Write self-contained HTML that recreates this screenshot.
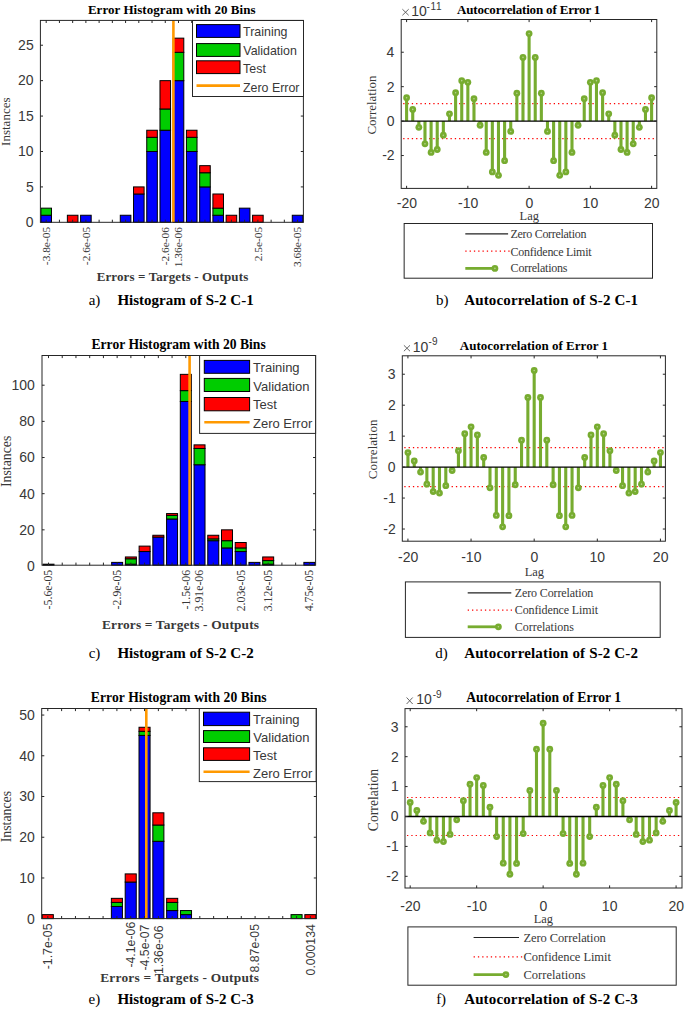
<!DOCTYPE html>
<html><head><meta charset="utf-8"><title>Figure</title>
<style>html,body{margin:0;padding:0;background:#fff;} body{width:685px;height:1009px;overflow:hidden;} svg{display:block;}</style>
</head><body>
<svg width="685" height="1009" viewBox="0 0 685 1009">
<rect x="0" y="0" width="685" height="1009" fill="#fff"/>
<rect x="40.91" y="215.25" width="10.58" height="7.05" fill="#0000ff" stroke="#000" stroke-width="1"/>
<rect x="40.91" y="208.16" width="10.58" height="7.08" fill="#00cc00" stroke="#000" stroke-width="1"/>
<rect x="67.37" y="215.25" width="10.58" height="7.05" fill="#ff0000" stroke="#000" stroke-width="1"/>
<rect x="80.60" y="215.25" width="10.58" height="7.05" fill="#0000ff" stroke="#000" stroke-width="1"/>
<rect x="120.29" y="215.25" width="10.58" height="7.05" fill="#0000ff" stroke="#000" stroke-width="1"/>
<rect x="133.52" y="193.99" width="10.58" height="28.31" fill="#0000ff" stroke="#000" stroke-width="1"/>
<rect x="133.52" y="186.91" width="10.58" height="7.08" fill="#ff0000" stroke="#000" stroke-width="1"/>
<rect x="146.75" y="151.49" width="10.58" height="70.81" fill="#0000ff" stroke="#000" stroke-width="1"/>
<rect x="146.75" y="137.32" width="10.58" height="14.17" fill="#00cc00" stroke="#000" stroke-width="1"/>
<rect x="146.75" y="130.24" width="10.58" height="7.08" fill="#ff0000" stroke="#000" stroke-width="1"/>
<rect x="159.98" y="130.24" width="10.58" height="92.06" fill="#0000ff" stroke="#000" stroke-width="1"/>
<rect x="159.98" y="108.99" width="10.58" height="21.25" fill="#00cc00" stroke="#000" stroke-width="1"/>
<rect x="159.98" y="80.65" width="10.58" height="28.34" fill="#ff0000" stroke="#000" stroke-width="1"/>
<rect x="173.21" y="80.65" width="10.58" height="141.65" fill="#0000ff" stroke="#000" stroke-width="1"/>
<rect x="173.21" y="52.31" width="10.58" height="28.34" fill="#00cc00" stroke="#000" stroke-width="1"/>
<rect x="173.21" y="38.15" width="10.58" height="14.17" fill="#ff0000" stroke="#000" stroke-width="1"/>
<rect x="186.44" y="151.49" width="10.58" height="70.81" fill="#0000ff" stroke="#000" stroke-width="1"/>
<rect x="186.44" y="137.32" width="10.58" height="14.17" fill="#00cc00" stroke="#000" stroke-width="1"/>
<rect x="186.44" y="130.24" width="10.58" height="7.08" fill="#ff0000" stroke="#000" stroke-width="1"/>
<rect x="199.67" y="186.91" width="10.58" height="35.39" fill="#0000ff" stroke="#000" stroke-width="1"/>
<rect x="199.67" y="172.74" width="10.58" height="14.17" fill="#00cc00" stroke="#000" stroke-width="1"/>
<rect x="199.67" y="165.66" width="10.58" height="7.08" fill="#ff0000" stroke="#000" stroke-width="1"/>
<rect x="212.90" y="215.25" width="10.58" height="7.05" fill="#0000ff" stroke="#000" stroke-width="1"/>
<rect x="212.90" y="208.16" width="10.58" height="7.08" fill="#00cc00" stroke="#000" stroke-width="1"/>
<rect x="212.90" y="193.99" width="10.58" height="14.17" fill="#ff0000" stroke="#000" stroke-width="1"/>
<rect x="226.13" y="215.25" width="10.58" height="7.05" fill="#ff0000" stroke="#000" stroke-width="1"/>
<rect x="239.36" y="208.16" width="10.58" height="14.14" fill="#0000ff" stroke="#000" stroke-width="1"/>
<rect x="252.59" y="215.25" width="10.58" height="7.05" fill="#ff0000" stroke="#000" stroke-width="1"/>
<rect x="292.28" y="215.25" width="10.58" height="7.05" fill="#0000ff" stroke="#000" stroke-width="1"/>
<line x1="173.40" y1="20.40" x2="173.40" y2="222.30" stroke="#ff9900" stroke-width="2.6"/>
<rect x="40.40" y="20.40" width="263.00" height="201.90" fill="none" stroke="#262626" stroke-width="1"/>
<line x1="46.20" y1="222.30" x2="46.20" y2="219.70" stroke="#262626" stroke-width="1"/>
<line x1="46.20" y1="20.40" x2="46.20" y2="23.00" stroke="#262626" stroke-width="1"/>
<line x1="59.43" y1="222.30" x2="59.43" y2="219.70" stroke="#262626" stroke-width="1"/>
<line x1="59.43" y1="20.40" x2="59.43" y2="23.00" stroke="#262626" stroke-width="1"/>
<line x1="72.66" y1="222.30" x2="72.66" y2="219.70" stroke="#262626" stroke-width="1"/>
<line x1="72.66" y1="20.40" x2="72.66" y2="23.00" stroke="#262626" stroke-width="1"/>
<line x1="85.89" y1="222.30" x2="85.89" y2="219.70" stroke="#262626" stroke-width="1"/>
<line x1="85.89" y1="20.40" x2="85.89" y2="23.00" stroke="#262626" stroke-width="1"/>
<line x1="99.12" y1="222.30" x2="99.12" y2="219.70" stroke="#262626" stroke-width="1"/>
<line x1="99.12" y1="20.40" x2="99.12" y2="23.00" stroke="#262626" stroke-width="1"/>
<line x1="112.35" y1="222.30" x2="112.35" y2="219.70" stroke="#262626" stroke-width="1"/>
<line x1="112.35" y1="20.40" x2="112.35" y2="23.00" stroke="#262626" stroke-width="1"/>
<line x1="125.58" y1="222.30" x2="125.58" y2="219.70" stroke="#262626" stroke-width="1"/>
<line x1="125.58" y1="20.40" x2="125.58" y2="23.00" stroke="#262626" stroke-width="1"/>
<line x1="138.81" y1="222.30" x2="138.81" y2="219.70" stroke="#262626" stroke-width="1"/>
<line x1="138.81" y1="20.40" x2="138.81" y2="23.00" stroke="#262626" stroke-width="1"/>
<line x1="152.04" y1="222.30" x2="152.04" y2="219.70" stroke="#262626" stroke-width="1"/>
<line x1="152.04" y1="20.40" x2="152.04" y2="23.00" stroke="#262626" stroke-width="1"/>
<line x1="165.27" y1="222.30" x2="165.27" y2="219.70" stroke="#262626" stroke-width="1"/>
<line x1="165.27" y1="20.40" x2="165.27" y2="23.00" stroke="#262626" stroke-width="1"/>
<line x1="178.50" y1="222.30" x2="178.50" y2="219.70" stroke="#262626" stroke-width="1"/>
<line x1="178.50" y1="20.40" x2="178.50" y2="23.00" stroke="#262626" stroke-width="1"/>
<line x1="191.73" y1="222.30" x2="191.73" y2="219.70" stroke="#262626" stroke-width="1"/>
<line x1="191.73" y1="20.40" x2="191.73" y2="23.00" stroke="#262626" stroke-width="1"/>
<line x1="204.96" y1="222.30" x2="204.96" y2="219.70" stroke="#262626" stroke-width="1"/>
<line x1="204.96" y1="20.40" x2="204.96" y2="23.00" stroke="#262626" stroke-width="1"/>
<line x1="218.19" y1="222.30" x2="218.19" y2="219.70" stroke="#262626" stroke-width="1"/>
<line x1="218.19" y1="20.40" x2="218.19" y2="23.00" stroke="#262626" stroke-width="1"/>
<line x1="231.42" y1="222.30" x2="231.42" y2="219.70" stroke="#262626" stroke-width="1"/>
<line x1="231.42" y1="20.40" x2="231.42" y2="23.00" stroke="#262626" stroke-width="1"/>
<line x1="244.65" y1="222.30" x2="244.65" y2="219.70" stroke="#262626" stroke-width="1"/>
<line x1="244.65" y1="20.40" x2="244.65" y2="23.00" stroke="#262626" stroke-width="1"/>
<line x1="257.88" y1="222.30" x2="257.88" y2="219.70" stroke="#262626" stroke-width="1"/>
<line x1="257.88" y1="20.40" x2="257.88" y2="23.00" stroke="#262626" stroke-width="1"/>
<line x1="271.11" y1="222.30" x2="271.11" y2="219.70" stroke="#262626" stroke-width="1"/>
<line x1="271.11" y1="20.40" x2="271.11" y2="23.00" stroke="#262626" stroke-width="1"/>
<line x1="284.34" y1="222.30" x2="284.34" y2="219.70" stroke="#262626" stroke-width="1"/>
<line x1="284.34" y1="20.40" x2="284.34" y2="23.00" stroke="#262626" stroke-width="1"/>
<line x1="297.57" y1="222.30" x2="297.57" y2="219.70" stroke="#262626" stroke-width="1"/>
<line x1="297.57" y1="20.40" x2="297.57" y2="23.00" stroke="#262626" stroke-width="1"/>
<text x="25.86" y="227.15" font-family='"Liberation Sans", sans-serif' font-size="14" fill="#383838">0</text>
<line x1="40.40" y1="186.91" x2="43.00" y2="186.91" stroke="#262626" stroke-width="1"/>
<line x1="303.40" y1="186.91" x2="300.80" y2="186.91" stroke="#262626" stroke-width="1"/>
<text x="25.90" y="191.66" font-family='"Liberation Sans", sans-serif' font-size="14" fill="#383838">5</text>
<line x1="40.40" y1="151.49" x2="43.00" y2="151.49" stroke="#262626" stroke-width="1"/>
<line x1="303.40" y1="151.49" x2="300.80" y2="151.49" stroke="#262626" stroke-width="1"/>
<text x="18.07" y="156.31" font-family='"Liberation Sans", sans-serif' font-size="14" fill="#383838">10</text>
<line x1="40.40" y1="116.07" x2="43.00" y2="116.07" stroke="#262626" stroke-width="1"/>
<line x1="303.40" y1="116.07" x2="300.80" y2="116.07" stroke="#262626" stroke-width="1"/>
<text x="18.12" y="120.82" font-family='"Liberation Sans", sans-serif' font-size="14" fill="#383838">15</text>
<line x1="40.40" y1="80.65" x2="43.00" y2="80.65" stroke="#262626" stroke-width="1"/>
<line x1="303.40" y1="80.65" x2="300.80" y2="80.65" stroke="#262626" stroke-width="1"/>
<text x="18.07" y="85.47" font-family='"Liberation Sans", sans-serif' font-size="14" fill="#383838">20</text>
<line x1="40.40" y1="45.23" x2="43.00" y2="45.23" stroke="#262626" stroke-width="1"/>
<line x1="303.40" y1="45.23" x2="300.80" y2="45.23" stroke="#262626" stroke-width="1"/>
<text x="18.12" y="50.05" font-family='"Liberation Sans", sans-serif' font-size="14" fill="#383838">25</text>
<rect x="192.50" y="20.50" width="111.00" height="76.00" fill="#fff" stroke="#262626" stroke-width="1"/>
<rect x="196.50" y="24.60" width="43.50" height="12.80" fill="#0000ff" stroke="#000" stroke-width="1"/>
<rect x="196.50" y="43.60" width="43.50" height="12.80" fill="#00cc00" stroke="#000" stroke-width="1"/>
<rect x="196.50" y="60.80" width="43.50" height="12.80" fill="#ff0000" stroke="#000" stroke-width="1"/>
<line x1="196.50" y1="85.60" x2="240.00" y2="85.60" stroke="#ff9900" stroke-width="2.6"/>
<text x="243.12" y="36.30" font-family='"Liberation Sans", sans-serif' font-size="12.4" fill="#383838">Training</text>
<text x="243.35" y="54.70" font-family='"Liberation Sans", sans-serif' font-size="12.4" fill="#383838">Validation</text>
<text x="243.12" y="73.10" font-family='"Liberation Sans", sans-serif' font-size="12.4" fill="#383838">Test</text>
<text x="243.01" y="91.90" font-family='"Liberation Sans", sans-serif' font-size="12.4" fill="#383838">Zero Error</text>
<text x="87.88" y="14.00" font-family='"Liberation Serif", serif' font-size="13" fill="#000" font-weight="bold" textLength="167.64" lengthAdjust="spacing">Error Histogram with 20 Bins</text>
<text x="0" y="0" transform="translate(9.90 145.88) rotate(-90)" font-family='"Liberation Serif", serif' font-size="13" fill="#383838">Instances</text>
<text x="0" y="0" transform="translate(49.91 265.16) rotate(-90)" font-family='"Liberation Serif", serif' font-size="11.4" fill="#383838">-3.8e-05</text>
<text x="0" y="0" transform="translate(89.60 265.16) rotate(-90)" font-family='"Liberation Serif", serif' font-size="11.4" fill="#383838">-2.6e-05</text>
<text x="0" y="0" transform="translate(168.98 265.26) rotate(-90)" font-family='"Liberation Serif", serif' font-size="11.4" fill="#383838">-2.6e-06</text>
<text x="0" y="0" transform="translate(182.21 267.17) rotate(-90)" font-family='"Liberation Serif", serif' font-size="11.4" fill="#383838">1.36e-06</text>
<text x="0" y="0" transform="translate(261.59 261.36) rotate(-90)" font-family='"Liberation Serif", serif' font-size="11.4" fill="#383838">2.5e-05</text>
<text x="0" y="0" transform="translate(301.28 267.06) rotate(-90)" font-family='"Liberation Serif", serif' font-size="11.4" fill="#383838">3.68e-05</text>
<text x="96.68" y="281.00" font-family='"Liberation Serif", serif' font-size="13" fill="#383838" font-weight="bold" textLength="151.54" lengthAdjust="spacing">Errors = Targets - Outputs</text>
<text x="88.67" y="304.80" font-family='"Liberation Serif", serif' font-size="15" fill="#000">a)</text>
<text x="117.44" y="304.80" font-family='"Liberation Serif", serif' font-size="15" fill="#000" font-weight="bold">Histogram of S-2 C-1</text>
<rect x="43.01" y="564.19" width="10.98" height="1.01" fill="#0000ff" stroke="#000" stroke-width="1"/>
<rect x="111.66" y="562.38" width="10.98" height="2.82" fill="#0000ff" stroke="#000" stroke-width="1"/>
<rect x="125.39" y="564.19" width="10.98" height="1.01" fill="#0000ff" stroke="#000" stroke-width="1"/>
<rect x="125.39" y="558.77" width="10.98" height="5.42" fill="#00cc00" stroke="#000" stroke-width="1"/>
<rect x="125.39" y="556.96" width="10.98" height="1.81" fill="#ff0000" stroke="#000" stroke-width="1"/>
<rect x="139.12" y="551.54" width="10.98" height="13.66" fill="#0000ff" stroke="#000" stroke-width="1"/>
<rect x="139.12" y="546.11" width="10.98" height="5.42" fill="#ff0000" stroke="#000" stroke-width="1"/>
<rect x="152.85" y="537.07" width="10.98" height="28.13" fill="#0000ff" stroke="#000" stroke-width="1"/>
<rect x="152.85" y="535.26" width="10.98" height="1.81" fill="#ff0000" stroke="#000" stroke-width="1"/>
<rect x="166.58" y="518.99" width="10.98" height="46.21" fill="#0000ff" stroke="#000" stroke-width="1"/>
<rect x="166.58" y="515.38" width="10.98" height="3.62" fill="#00cc00" stroke="#000" stroke-width="1"/>
<rect x="166.58" y="513.57" width="10.98" height="1.81" fill="#ff0000" stroke="#000" stroke-width="1"/>
<rect x="180.31" y="401.47" width="10.98" height="163.73" fill="#0000ff" stroke="#000" stroke-width="1"/>
<rect x="180.31" y="390.62" width="10.98" height="10.85" fill="#00cc00" stroke="#000" stroke-width="1"/>
<rect x="180.31" y="374.35" width="10.98" height="16.27" fill="#ff0000" stroke="#000" stroke-width="1"/>
<rect x="194.04" y="464.75" width="10.98" height="100.45" fill="#0000ff" stroke="#000" stroke-width="1"/>
<rect x="194.04" y="448.48" width="10.98" height="16.27" fill="#00cc00" stroke="#000" stroke-width="1"/>
<rect x="194.04" y="444.86" width="10.98" height="3.62" fill="#ff0000" stroke="#000" stroke-width="1"/>
<rect x="207.77" y="540.69" width="10.98" height="24.51" fill="#0000ff" stroke="#000" stroke-width="1"/>
<rect x="207.77" y="538.88" width="10.98" height="1.81" fill="#00cc00" stroke="#000" stroke-width="1"/>
<rect x="207.77" y="535.26" width="10.98" height="3.62" fill="#ff0000" stroke="#000" stroke-width="1"/>
<rect x="221.50" y="547.92" width="10.98" height="17.28" fill="#0000ff" stroke="#000" stroke-width="1"/>
<rect x="221.50" y="540.69" width="10.98" height="7.23" fill="#00cc00" stroke="#000" stroke-width="1"/>
<rect x="221.50" y="529.84" width="10.98" height="10.85" fill="#ff0000" stroke="#000" stroke-width="1"/>
<rect x="235.23" y="551.54" width="10.98" height="13.66" fill="#0000ff" stroke="#000" stroke-width="1"/>
<rect x="235.23" y="547.92" width="10.98" height="3.62" fill="#00cc00" stroke="#000" stroke-width="1"/>
<rect x="235.23" y="542.50" width="10.98" height="5.42" fill="#ff0000" stroke="#000" stroke-width="1"/>
<rect x="248.96" y="562.38" width="10.98" height="2.82" fill="#0000ff" stroke="#000" stroke-width="1"/>
<rect x="262.69" y="564.19" width="10.98" height="1.01" fill="#0000ff" stroke="#000" stroke-width="1"/>
<rect x="262.69" y="560.58" width="10.98" height="3.62" fill="#00cc00" stroke="#000" stroke-width="1"/>
<rect x="262.69" y="556.96" width="10.98" height="3.62" fill="#ff0000" stroke="#000" stroke-width="1"/>
<rect x="303.88" y="562.38" width="10.98" height="2.82" fill="#0000ff" stroke="#000" stroke-width="1"/>
<line x1="189.60" y1="355.50" x2="189.60" y2="565.20" stroke="#ff9900" stroke-width="2.6"/>
<rect x="42.00" y="355.50" width="273.60" height="209.70" fill="none" stroke="#262626" stroke-width="1"/>
<line x1="48.50" y1="565.20" x2="48.50" y2="562.60" stroke="#262626" stroke-width="1"/>
<line x1="48.50" y1="355.50" x2="48.50" y2="358.10" stroke="#262626" stroke-width="1"/>
<line x1="62.23" y1="565.20" x2="62.23" y2="562.60" stroke="#262626" stroke-width="1"/>
<line x1="62.23" y1="355.50" x2="62.23" y2="358.10" stroke="#262626" stroke-width="1"/>
<line x1="75.96" y1="565.20" x2="75.96" y2="562.60" stroke="#262626" stroke-width="1"/>
<line x1="75.96" y1="355.50" x2="75.96" y2="358.10" stroke="#262626" stroke-width="1"/>
<line x1="89.69" y1="565.20" x2="89.69" y2="562.60" stroke="#262626" stroke-width="1"/>
<line x1="89.69" y1="355.50" x2="89.69" y2="358.10" stroke="#262626" stroke-width="1"/>
<line x1="103.42" y1="565.20" x2="103.42" y2="562.60" stroke="#262626" stroke-width="1"/>
<line x1="103.42" y1="355.50" x2="103.42" y2="358.10" stroke="#262626" stroke-width="1"/>
<line x1="117.15" y1="565.20" x2="117.15" y2="562.60" stroke="#262626" stroke-width="1"/>
<line x1="117.15" y1="355.50" x2="117.15" y2="358.10" stroke="#262626" stroke-width="1"/>
<line x1="130.88" y1="565.20" x2="130.88" y2="562.60" stroke="#262626" stroke-width="1"/>
<line x1="130.88" y1="355.50" x2="130.88" y2="358.10" stroke="#262626" stroke-width="1"/>
<line x1="144.61" y1="565.20" x2="144.61" y2="562.60" stroke="#262626" stroke-width="1"/>
<line x1="144.61" y1="355.50" x2="144.61" y2="358.10" stroke="#262626" stroke-width="1"/>
<line x1="158.34" y1="565.20" x2="158.34" y2="562.60" stroke="#262626" stroke-width="1"/>
<line x1="158.34" y1="355.50" x2="158.34" y2="358.10" stroke="#262626" stroke-width="1"/>
<line x1="172.07" y1="565.20" x2="172.07" y2="562.60" stroke="#262626" stroke-width="1"/>
<line x1="172.07" y1="355.50" x2="172.07" y2="358.10" stroke="#262626" stroke-width="1"/>
<line x1="185.80" y1="565.20" x2="185.80" y2="562.60" stroke="#262626" stroke-width="1"/>
<line x1="185.80" y1="355.50" x2="185.80" y2="358.10" stroke="#262626" stroke-width="1"/>
<line x1="199.53" y1="565.20" x2="199.53" y2="562.60" stroke="#262626" stroke-width="1"/>
<line x1="199.53" y1="355.50" x2="199.53" y2="358.10" stroke="#262626" stroke-width="1"/>
<line x1="213.26" y1="565.20" x2="213.26" y2="562.60" stroke="#262626" stroke-width="1"/>
<line x1="213.26" y1="355.50" x2="213.26" y2="358.10" stroke="#262626" stroke-width="1"/>
<line x1="226.99" y1="565.20" x2="226.99" y2="562.60" stroke="#262626" stroke-width="1"/>
<line x1="226.99" y1="355.50" x2="226.99" y2="358.10" stroke="#262626" stroke-width="1"/>
<line x1="240.72" y1="565.20" x2="240.72" y2="562.60" stroke="#262626" stroke-width="1"/>
<line x1="240.72" y1="355.50" x2="240.72" y2="358.10" stroke="#262626" stroke-width="1"/>
<line x1="254.45" y1="565.20" x2="254.45" y2="562.60" stroke="#262626" stroke-width="1"/>
<line x1="254.45" y1="355.50" x2="254.45" y2="358.10" stroke="#262626" stroke-width="1"/>
<line x1="268.18" y1="565.20" x2="268.18" y2="562.60" stroke="#262626" stroke-width="1"/>
<line x1="268.18" y1="355.50" x2="268.18" y2="358.10" stroke="#262626" stroke-width="1"/>
<line x1="281.91" y1="565.20" x2="281.91" y2="562.60" stroke="#262626" stroke-width="1"/>
<line x1="281.91" y1="355.50" x2="281.91" y2="358.10" stroke="#262626" stroke-width="1"/>
<line x1="295.64" y1="565.20" x2="295.64" y2="562.60" stroke="#262626" stroke-width="1"/>
<line x1="295.64" y1="355.50" x2="295.64" y2="358.10" stroke="#262626" stroke-width="1"/>
<line x1="309.37" y1="565.20" x2="309.37" y2="562.60" stroke="#262626" stroke-width="1"/>
<line x1="309.37" y1="355.50" x2="309.37" y2="358.10" stroke="#262626" stroke-width="1"/>
<text x="26.96" y="570.82" font-family='"Liberation Sans", sans-serif' font-size="14" fill="#383838">0</text>
<line x1="42.00" y1="529.84" x2="44.60" y2="529.84" stroke="#262626" stroke-width="1"/>
<line x1="315.60" y1="529.84" x2="313.00" y2="529.84" stroke="#262626" stroke-width="1"/>
<text x="19.17" y="534.66" font-family='"Liberation Sans", sans-serif' font-size="14" fill="#383838">20</text>
<line x1="42.00" y1="493.68" x2="44.60" y2="493.68" stroke="#262626" stroke-width="1"/>
<line x1="315.60" y1="493.68" x2="313.00" y2="493.68" stroke="#262626" stroke-width="1"/>
<text x="19.17" y="498.50" font-family='"Liberation Sans", sans-serif' font-size="14" fill="#383838">40</text>
<line x1="42.00" y1="457.52" x2="44.60" y2="457.52" stroke="#262626" stroke-width="1"/>
<line x1="315.60" y1="457.52" x2="313.00" y2="457.52" stroke="#262626" stroke-width="1"/>
<text x="19.17" y="462.34" font-family='"Liberation Sans", sans-serif' font-size="14" fill="#383838">60</text>
<line x1="42.00" y1="421.36" x2="44.60" y2="421.36" stroke="#262626" stroke-width="1"/>
<line x1="315.60" y1="421.36" x2="313.00" y2="421.36" stroke="#262626" stroke-width="1"/>
<text x="19.17" y="426.18" font-family='"Liberation Sans", sans-serif' font-size="14" fill="#383838">80</text>
<line x1="42.00" y1="385.20" x2="44.60" y2="385.20" stroke="#262626" stroke-width="1"/>
<line x1="315.60" y1="385.20" x2="313.00" y2="385.20" stroke="#262626" stroke-width="1"/>
<text x="11.39" y="390.02" font-family='"Liberation Sans", sans-serif' font-size="14" fill="#383838">100</text>
<rect x="199.60" y="355.50" width="116.00" height="77.90" fill="#fff" stroke="#262626" stroke-width="1"/>
<rect x="204.30" y="360.40" width="45.30" height="12.90" fill="#0000ff" stroke="#000" stroke-width="1"/>
<rect x="204.30" y="378.40" width="45.30" height="13.10" fill="#00cc00" stroke="#000" stroke-width="1"/>
<rect x="204.30" y="397.50" width="45.30" height="13.30" fill="#ff0000" stroke="#000" stroke-width="1"/>
<line x1="204.30" y1="422.30" x2="249.60" y2="422.30" stroke="#ff9900" stroke-width="2.6"/>
<text x="253.11" y="371.60" font-family='"Liberation Sans", sans-serif' font-size="13" fill="#383838">Training</text>
<text x="253.34" y="390.60" font-family='"Liberation Sans", sans-serif' font-size="13" fill="#383838">Validation</text>
<text x="253.11" y="409.00" font-family='"Liberation Sans", sans-serif' font-size="13" fill="#383838">Test</text>
<text x="252.99" y="427.80" font-family='"Liberation Sans", sans-serif' font-size="13" fill="#383838">Zero Error</text>
<text x="91.47" y="349.00" font-family='"Liberation Serif", serif' font-size="13.6" fill="#000" font-weight="bold" textLength="174.26" lengthAdjust="spacing">Error Histogram with 20 Bins</text>
<text x="0" y="0" transform="translate(10.70 487.02) rotate(-90)" font-family='"Liberation Serif", serif' font-size="13.8" fill="#383838">Instances</text>
<text x="0" y="0" transform="translate(52.34 609.39) rotate(-90)" font-family='"Liberation Serif", serif' font-size="11.8" fill="#383838">-5.6e-05</text>
<text x="0" y="0" transform="translate(120.99 609.39) rotate(-90)" font-family='"Liberation Serif", serif' font-size="11.8" fill="#383838">-2.9e-05</text>
<text x="0" y="0" transform="translate(189.64 609.49) rotate(-90)" font-family='"Liberation Serif", serif' font-size="11.8" fill="#383838">-1.5e-06</text>
<text x="0" y="0" transform="translate(203.37 611.47) rotate(-90)" font-family='"Liberation Serif", serif' font-size="11.8" fill="#383838">3.91e-06</text>
<text x="0" y="0" transform="translate(244.56 611.36) rotate(-90)" font-family='"Liberation Serif", serif' font-size="11.8" fill="#383838">2.03e-05</text>
<text x="0" y="0" transform="translate(272.02 611.36) rotate(-90)" font-family='"Liberation Serif", serif' font-size="11.8" fill="#383838">3.12e-05</text>
<text x="0" y="0" transform="translate(313.21 611.36) rotate(-90)" font-family='"Liberation Serif", serif' font-size="11.8" fill="#383838">4.75e-05</text>
<text x="101.97" y="628.50" font-family='"Liberation Serif", serif' font-size="13.4" fill="#383838" font-weight="bold" textLength="157.06" lengthAdjust="spacing">Errors = Targets - Outputs</text>
<text x="88.63" y="658.00" font-family='"Liberation Serif", serif' font-size="15" fill="#000">c)</text>
<text x="117.44" y="658.00" font-family='"Liberation Serif", serif' font-size="15" fill="#000" font-weight="bold">Histogram of S-2 C-2</text>
<rect x="42.27" y="914.63" width="11.06" height="3.97" fill="#ff0000" stroke="#000" stroke-width="1"/>
<rect x="111.37" y="906.48" width="11.06" height="12.12" fill="#0000ff" stroke="#000" stroke-width="1"/>
<rect x="111.37" y="902.41" width="11.06" height="4.07" fill="#00cc00" stroke="#000" stroke-width="1"/>
<rect x="111.37" y="898.34" width="11.06" height="4.07" fill="#ff0000" stroke="#000" stroke-width="1"/>
<rect x="125.19" y="882.04" width="11.06" height="36.56" fill="#0000ff" stroke="#000" stroke-width="1"/>
<rect x="125.19" y="873.90" width="11.06" height="8.15" fill="#ff0000" stroke="#000" stroke-width="1"/>
<rect x="139.01" y="735.41" width="11.06" height="183.19" fill="#0000ff" stroke="#000" stroke-width="1"/>
<rect x="139.01" y="731.34" width="11.06" height="4.07" fill="#00cc00" stroke="#000" stroke-width="1"/>
<rect x="139.01" y="727.27" width="11.06" height="4.07" fill="#ff0000" stroke="#000" stroke-width="1"/>
<rect x="152.83" y="841.31" width="11.06" height="77.29" fill="#0000ff" stroke="#000" stroke-width="1"/>
<rect x="152.83" y="825.02" width="11.06" height="16.29" fill="#00cc00" stroke="#000" stroke-width="1"/>
<rect x="152.83" y="812.80" width="11.06" height="12.22" fill="#ff0000" stroke="#000" stroke-width="1"/>
<rect x="166.65" y="910.55" width="11.06" height="8.05" fill="#0000ff" stroke="#000" stroke-width="1"/>
<rect x="166.65" y="902.41" width="11.06" height="8.15" fill="#00cc00" stroke="#000" stroke-width="1"/>
<rect x="166.65" y="898.34" width="11.06" height="4.07" fill="#ff0000" stroke="#000" stroke-width="1"/>
<rect x="180.47" y="914.63" width="11.06" height="3.97" fill="#0000ff" stroke="#000" stroke-width="1"/>
<rect x="180.47" y="910.55" width="11.06" height="4.07" fill="#00cc00" stroke="#000" stroke-width="1"/>
<rect x="291.03" y="914.63" width="11.06" height="3.97" fill="#00cc00" stroke="#000" stroke-width="1"/>
<rect x="304.85" y="914.63" width="11.06" height="3.97" fill="#ff0000" stroke="#000" stroke-width="1"/>
<line x1="146.30" y1="708.50" x2="146.30" y2="918.60" stroke="#ff9900" stroke-width="2.6"/>
<rect x="41.70" y="708.50" width="274.70" height="210.10" fill="none" stroke="#262626" stroke-width="1"/>
<line x1="47.80" y1="918.60" x2="47.80" y2="916.00" stroke="#262626" stroke-width="1"/>
<line x1="47.80" y1="708.50" x2="47.80" y2="711.10" stroke="#262626" stroke-width="1"/>
<line x1="61.62" y1="918.60" x2="61.62" y2="916.00" stroke="#262626" stroke-width="1"/>
<line x1="61.62" y1="708.50" x2="61.62" y2="711.10" stroke="#262626" stroke-width="1"/>
<line x1="75.44" y1="918.60" x2="75.44" y2="916.00" stroke="#262626" stroke-width="1"/>
<line x1="75.44" y1="708.50" x2="75.44" y2="711.10" stroke="#262626" stroke-width="1"/>
<line x1="89.26" y1="918.60" x2="89.26" y2="916.00" stroke="#262626" stroke-width="1"/>
<line x1="89.26" y1="708.50" x2="89.26" y2="711.10" stroke="#262626" stroke-width="1"/>
<line x1="103.08" y1="918.60" x2="103.08" y2="916.00" stroke="#262626" stroke-width="1"/>
<line x1="103.08" y1="708.50" x2="103.08" y2="711.10" stroke="#262626" stroke-width="1"/>
<line x1="116.90" y1="918.60" x2="116.90" y2="916.00" stroke="#262626" stroke-width="1"/>
<line x1="116.90" y1="708.50" x2="116.90" y2="711.10" stroke="#262626" stroke-width="1"/>
<line x1="130.72" y1="918.60" x2="130.72" y2="916.00" stroke="#262626" stroke-width="1"/>
<line x1="130.72" y1="708.50" x2="130.72" y2="711.10" stroke="#262626" stroke-width="1"/>
<line x1="144.54" y1="918.60" x2="144.54" y2="916.00" stroke="#262626" stroke-width="1"/>
<line x1="144.54" y1="708.50" x2="144.54" y2="711.10" stroke="#262626" stroke-width="1"/>
<line x1="158.36" y1="918.60" x2="158.36" y2="916.00" stroke="#262626" stroke-width="1"/>
<line x1="158.36" y1="708.50" x2="158.36" y2="711.10" stroke="#262626" stroke-width="1"/>
<line x1="172.18" y1="918.60" x2="172.18" y2="916.00" stroke="#262626" stroke-width="1"/>
<line x1="172.18" y1="708.50" x2="172.18" y2="711.10" stroke="#262626" stroke-width="1"/>
<line x1="186.00" y1="918.60" x2="186.00" y2="916.00" stroke="#262626" stroke-width="1"/>
<line x1="186.00" y1="708.50" x2="186.00" y2="711.10" stroke="#262626" stroke-width="1"/>
<line x1="199.82" y1="918.60" x2="199.82" y2="916.00" stroke="#262626" stroke-width="1"/>
<line x1="199.82" y1="708.50" x2="199.82" y2="711.10" stroke="#262626" stroke-width="1"/>
<line x1="213.64" y1="918.60" x2="213.64" y2="916.00" stroke="#262626" stroke-width="1"/>
<line x1="213.64" y1="708.50" x2="213.64" y2="711.10" stroke="#262626" stroke-width="1"/>
<line x1="227.46" y1="918.60" x2="227.46" y2="916.00" stroke="#262626" stroke-width="1"/>
<line x1="227.46" y1="708.50" x2="227.46" y2="711.10" stroke="#262626" stroke-width="1"/>
<line x1="241.28" y1="918.60" x2="241.28" y2="916.00" stroke="#262626" stroke-width="1"/>
<line x1="241.28" y1="708.50" x2="241.28" y2="711.10" stroke="#262626" stroke-width="1"/>
<line x1="255.10" y1="918.60" x2="255.10" y2="916.00" stroke="#262626" stroke-width="1"/>
<line x1="255.10" y1="708.50" x2="255.10" y2="711.10" stroke="#262626" stroke-width="1"/>
<line x1="268.92" y1="918.60" x2="268.92" y2="916.00" stroke="#262626" stroke-width="1"/>
<line x1="268.92" y1="708.50" x2="268.92" y2="711.10" stroke="#262626" stroke-width="1"/>
<line x1="282.74" y1="918.60" x2="282.74" y2="916.00" stroke="#262626" stroke-width="1"/>
<line x1="282.74" y1="708.50" x2="282.74" y2="711.10" stroke="#262626" stroke-width="1"/>
<line x1="296.56" y1="918.60" x2="296.56" y2="916.00" stroke="#262626" stroke-width="1"/>
<line x1="296.56" y1="708.50" x2="296.56" y2="711.10" stroke="#262626" stroke-width="1"/>
<line x1="310.38" y1="918.60" x2="310.38" y2="916.00" stroke="#262626" stroke-width="1"/>
<line x1="310.38" y1="708.50" x2="310.38" y2="711.10" stroke="#262626" stroke-width="1"/>
<text x="26.96" y="923.52" font-family='"Liberation Sans", sans-serif' font-size="14" fill="#383838">0</text>
<line x1="41.70" y1="877.97" x2="44.30" y2="877.97" stroke="#262626" stroke-width="1"/>
<line x1="316.40" y1="877.97" x2="313.80" y2="877.97" stroke="#262626" stroke-width="1"/>
<text x="19.17" y="882.79" font-family='"Liberation Sans", sans-serif' font-size="14" fill="#383838">10</text>
<line x1="41.70" y1="837.24" x2="44.30" y2="837.24" stroke="#262626" stroke-width="1"/>
<line x1="316.40" y1="837.24" x2="313.80" y2="837.24" stroke="#262626" stroke-width="1"/>
<text x="19.17" y="842.06" font-family='"Liberation Sans", sans-serif' font-size="14" fill="#383838">20</text>
<line x1="41.70" y1="796.51" x2="44.30" y2="796.51" stroke="#262626" stroke-width="1"/>
<line x1="316.40" y1="796.51" x2="313.80" y2="796.51" stroke="#262626" stroke-width="1"/>
<text x="19.17" y="801.33" font-family='"Liberation Sans", sans-serif' font-size="14" fill="#383838">30</text>
<line x1="41.70" y1="755.78" x2="44.30" y2="755.78" stroke="#262626" stroke-width="1"/>
<line x1="316.40" y1="755.78" x2="313.80" y2="755.78" stroke="#262626" stroke-width="1"/>
<text x="19.17" y="760.60" font-family='"Liberation Sans", sans-serif' font-size="14" fill="#383838">40</text>
<line x1="41.70" y1="715.05" x2="44.30" y2="715.05" stroke="#262626" stroke-width="1"/>
<line x1="316.40" y1="715.05" x2="313.80" y2="715.05" stroke="#262626" stroke-width="1"/>
<text x="19.17" y="719.87" font-family='"Liberation Sans", sans-serif' font-size="14" fill="#383838">50</text>
<rect x="199.30" y="708.50" width="116.80" height="73.10" fill="#fff" stroke="#262626" stroke-width="1"/>
<rect x="203.50" y="712.20" width="46.10" height="13.40" fill="#0000ff" stroke="#000" stroke-width="1"/>
<rect x="203.50" y="730.60" width="46.10" height="11.90" fill="#00cc00" stroke="#000" stroke-width="1"/>
<rect x="203.50" y="747.80" width="46.10" height="12.60" fill="#ff0000" stroke="#000" stroke-width="1"/>
<line x1="203.50" y1="771.80" x2="249.60" y2="771.80" stroke="#ff9900" stroke-width="2.6"/>
<text x="253.11" y="723.50" font-family='"Liberation Sans", sans-serif' font-size="13" fill="#383838">Training</text>
<text x="253.34" y="741.50" font-family='"Liberation Sans", sans-serif' font-size="13" fill="#383838">Validation</text>
<text x="253.11" y="759.50" font-family='"Liberation Sans", sans-serif' font-size="13" fill="#383838">Test</text>
<text x="252.99" y="777.50" font-family='"Liberation Sans", sans-serif' font-size="13" fill="#383838">Zero Error</text>
<text x="90.87" y="701.90" font-family='"Liberation Serif", serif' font-size="13.6" fill="#000" font-weight="bold" textLength="175.76" lengthAdjust="spacing">Error Histogram with 20 Bins</text>
<text x="0" y="0" transform="translate(10.70 842.32) rotate(-90)" font-family='"Liberation Serif", serif' font-size="13.8" fill="#383838">Instances</text>
<text x="0" y="0" transform="translate(52.03 969.30) rotate(-90)" font-family='"Liberation Sans", sans-serif' font-size="12.3" fill="#383838">-1.7e-05</text>
<text x="0" y="0" transform="translate(134.95 967.57) rotate(-90)" font-family='"Liberation Sans", sans-serif' font-size="12.3" fill="#383838">-4.1e-06</text>
<text x="0" y="0" transform="translate(148.77 970.49) rotate(-90)" font-family='"Liberation Sans", sans-serif' font-size="12.3" fill="#383838">-4.5e-07</text>
<text x="0" y="0" transform="translate(162.59 974.02) rotate(-90)" font-family='"Liberation Sans", sans-serif' font-size="12.3" fill="#383838">1.36e-06</text>
<text x="0" y="0" transform="translate(259.33 972.54) rotate(-90)" font-family='"Liberation Sans", sans-serif' font-size="12.3" fill="#383838">8.87e-05</text>
<text x="0" y="0" transform="translate(314.61 975.44) rotate(-90)" font-family='"Liberation Sans", sans-serif' font-size="12.3" fill="#383838">0.000134</text>
<text x="100.17" y="981.50" font-family='"Liberation Serif", serif' font-size="13.4" fill="#383838" font-weight="bold" textLength="158.86" lengthAdjust="spacing">Errors = Targets - Outputs</text>
<text x="88.61" y="1003.80" font-family='"Liberation Serif", serif' font-size="15" fill="#000">e)</text>
<text x="117.44" y="1003.80" font-family='"Liberation Serif", serif' font-size="15" fill="#000" font-weight="bold">Histogram of S-2 C-3</text>
<line x1="403.20" y1="103.54" x2="656.80" y2="103.54" stroke="#ff0000" stroke-width="1.2" stroke-dasharray="1.3 3"/>
<line x1="403.20" y1="138.66" x2="656.80" y2="138.66" stroke="#ff0000" stroke-width="1.2" stroke-dasharray="1.3 3"/>
<line x1="406.60" y1="121.10" x2="406.60" y2="97.68" stroke="#77ac30" stroke-width="3.1"/>
<line x1="412.73" y1="121.10" x2="412.73" y2="109.39" stroke="#77ac30" stroke-width="3.1"/>
<line x1="418.85" y1="121.10" x2="418.85" y2="127.30" stroke="#77ac30" stroke-width="3.1"/>
<line x1="424.98" y1="121.10" x2="424.98" y2="143.83" stroke="#77ac30" stroke-width="3.1"/>
<line x1="431.10" y1="121.10" x2="431.10" y2="152.44" stroke="#77ac30" stroke-width="3.1"/>
<line x1="437.23" y1="121.10" x2="437.23" y2="149.51" stroke="#77ac30" stroke-width="3.1"/>
<line x1="443.35" y1="121.10" x2="443.35" y2="135.22" stroke="#77ac30" stroke-width="3.1"/>
<line x1="449.48" y1="121.10" x2="449.48" y2="113.87" stroke="#77ac30" stroke-width="3.1"/>
<line x1="455.60" y1="121.10" x2="455.60" y2="92.69" stroke="#77ac30" stroke-width="3.1"/>
<line x1="461.73" y1="121.10" x2="461.73" y2="80.63" stroke="#77ac30" stroke-width="3.1"/>
<line x1="467.85" y1="121.10" x2="467.85" y2="82.35" stroke="#77ac30" stroke-width="3.1"/>
<line x1="473.98" y1="121.10" x2="473.98" y2="98.71" stroke="#77ac30" stroke-width="3.1"/>
<line x1="480.10" y1="121.10" x2="480.10" y2="125.23" stroke="#77ac30" stroke-width="3.1"/>
<line x1="486.23" y1="121.10" x2="486.23" y2="152.44" stroke="#77ac30" stroke-width="3.1"/>
<line x1="492.35" y1="121.10" x2="492.35" y2="171.90" stroke="#77ac30" stroke-width="3.1"/>
<line x1="498.48" y1="121.10" x2="498.48" y2="175.34" stroke="#77ac30" stroke-width="3.1"/>
<line x1="504.60" y1="121.10" x2="504.60" y2="160.71" stroke="#77ac30" stroke-width="3.1"/>
<line x1="510.73" y1="121.10" x2="510.73" y2="131.43" stroke="#77ac30" stroke-width="3.1"/>
<line x1="516.85" y1="121.10" x2="516.85" y2="93.20" stroke="#77ac30" stroke-width="3.1"/>
<line x1="522.98" y1="121.10" x2="522.98" y2="57.39" stroke="#77ac30" stroke-width="3.1"/>
<line x1="529.10" y1="121.10" x2="529.10" y2="33.62" stroke="#77ac30" stroke-width="3.1"/>
<line x1="535.23" y1="121.10" x2="535.23" y2="57.39" stroke="#77ac30" stroke-width="3.1"/>
<line x1="541.35" y1="121.10" x2="541.35" y2="93.20" stroke="#77ac30" stroke-width="3.1"/>
<line x1="547.48" y1="121.10" x2="547.48" y2="131.43" stroke="#77ac30" stroke-width="3.1"/>
<line x1="553.60" y1="121.10" x2="553.60" y2="160.71" stroke="#77ac30" stroke-width="3.1"/>
<line x1="559.73" y1="121.10" x2="559.73" y2="175.34" stroke="#77ac30" stroke-width="3.1"/>
<line x1="565.85" y1="121.10" x2="565.85" y2="171.90" stroke="#77ac30" stroke-width="3.1"/>
<line x1="571.98" y1="121.10" x2="571.98" y2="152.44" stroke="#77ac30" stroke-width="3.1"/>
<line x1="578.10" y1="121.10" x2="578.10" y2="125.23" stroke="#77ac30" stroke-width="3.1"/>
<line x1="584.23" y1="121.10" x2="584.23" y2="98.71" stroke="#77ac30" stroke-width="3.1"/>
<line x1="590.35" y1="121.10" x2="590.35" y2="82.35" stroke="#77ac30" stroke-width="3.1"/>
<line x1="596.48" y1="121.10" x2="596.48" y2="80.63" stroke="#77ac30" stroke-width="3.1"/>
<line x1="602.60" y1="121.10" x2="602.60" y2="92.69" stroke="#77ac30" stroke-width="3.1"/>
<line x1="608.73" y1="121.10" x2="608.73" y2="113.87" stroke="#77ac30" stroke-width="3.1"/>
<line x1="614.85" y1="121.10" x2="614.85" y2="135.22" stroke="#77ac30" stroke-width="3.1"/>
<line x1="620.98" y1="121.10" x2="620.98" y2="149.51" stroke="#77ac30" stroke-width="3.1"/>
<line x1="627.10" y1="121.10" x2="627.10" y2="152.44" stroke="#77ac30" stroke-width="3.1"/>
<line x1="633.23" y1="121.10" x2="633.23" y2="143.83" stroke="#77ac30" stroke-width="3.1"/>
<line x1="639.35" y1="121.10" x2="639.35" y2="127.30" stroke="#77ac30" stroke-width="3.1"/>
<line x1="645.48" y1="121.10" x2="645.48" y2="109.39" stroke="#77ac30" stroke-width="3.1"/>
<line x1="651.60" y1="121.10" x2="651.60" y2="97.68" stroke="#77ac30" stroke-width="3.1"/>
<circle cx="406.60" cy="97.68" r="3.4" fill="#77ac30"/>
<circle cx="406.60" cy="97.68" r="0.8" fill="#b5d48e"/>
<circle cx="412.73" cy="109.39" r="3.4" fill="#77ac30"/>
<circle cx="412.73" cy="109.39" r="0.8" fill="#b5d48e"/>
<circle cx="418.85" cy="127.30" r="3.4" fill="#77ac30"/>
<circle cx="418.85" cy="127.30" r="0.8" fill="#b5d48e"/>
<circle cx="424.98" cy="143.83" r="3.4" fill="#77ac30"/>
<circle cx="424.98" cy="143.83" r="0.8" fill="#b5d48e"/>
<circle cx="431.10" cy="152.44" r="3.4" fill="#77ac30"/>
<circle cx="431.10" cy="152.44" r="0.8" fill="#b5d48e"/>
<circle cx="437.23" cy="149.51" r="3.4" fill="#77ac30"/>
<circle cx="437.23" cy="149.51" r="0.8" fill="#b5d48e"/>
<circle cx="443.35" cy="135.22" r="3.4" fill="#77ac30"/>
<circle cx="443.35" cy="135.22" r="0.8" fill="#b5d48e"/>
<circle cx="449.48" cy="113.87" r="3.4" fill="#77ac30"/>
<circle cx="449.48" cy="113.87" r="0.8" fill="#b5d48e"/>
<circle cx="455.60" cy="92.69" r="3.4" fill="#77ac30"/>
<circle cx="455.60" cy="92.69" r="0.8" fill="#b5d48e"/>
<circle cx="461.73" cy="80.63" r="3.4" fill="#77ac30"/>
<circle cx="461.73" cy="80.63" r="0.8" fill="#b5d48e"/>
<circle cx="467.85" cy="82.35" r="3.4" fill="#77ac30"/>
<circle cx="467.85" cy="82.35" r="0.8" fill="#b5d48e"/>
<circle cx="473.98" cy="98.71" r="3.4" fill="#77ac30"/>
<circle cx="473.98" cy="98.71" r="0.8" fill="#b5d48e"/>
<circle cx="480.10" cy="125.23" r="3.4" fill="#77ac30"/>
<circle cx="480.10" cy="125.23" r="0.8" fill="#b5d48e"/>
<circle cx="486.23" cy="152.44" r="3.4" fill="#77ac30"/>
<circle cx="486.23" cy="152.44" r="0.8" fill="#b5d48e"/>
<circle cx="492.35" cy="171.90" r="3.4" fill="#77ac30"/>
<circle cx="492.35" cy="171.90" r="0.8" fill="#b5d48e"/>
<circle cx="498.48" cy="175.34" r="3.4" fill="#77ac30"/>
<circle cx="498.48" cy="175.34" r="0.8" fill="#b5d48e"/>
<circle cx="504.60" cy="160.71" r="3.4" fill="#77ac30"/>
<circle cx="504.60" cy="160.71" r="0.8" fill="#b5d48e"/>
<circle cx="510.73" cy="131.43" r="3.4" fill="#77ac30"/>
<circle cx="510.73" cy="131.43" r="0.8" fill="#b5d48e"/>
<circle cx="516.85" cy="93.20" r="3.4" fill="#77ac30"/>
<circle cx="516.85" cy="93.20" r="0.8" fill="#b5d48e"/>
<circle cx="522.98" cy="57.39" r="3.4" fill="#77ac30"/>
<circle cx="522.98" cy="57.39" r="0.8" fill="#b5d48e"/>
<circle cx="529.10" cy="33.62" r="3.4" fill="#77ac30"/>
<circle cx="529.10" cy="33.62" r="0.8" fill="#b5d48e"/>
<circle cx="535.23" cy="57.39" r="3.4" fill="#77ac30"/>
<circle cx="535.23" cy="57.39" r="0.8" fill="#b5d48e"/>
<circle cx="541.35" cy="93.20" r="3.4" fill="#77ac30"/>
<circle cx="541.35" cy="93.20" r="0.8" fill="#b5d48e"/>
<circle cx="547.48" cy="131.43" r="3.4" fill="#77ac30"/>
<circle cx="547.48" cy="131.43" r="0.8" fill="#b5d48e"/>
<circle cx="553.60" cy="160.71" r="3.4" fill="#77ac30"/>
<circle cx="553.60" cy="160.71" r="0.8" fill="#b5d48e"/>
<circle cx="559.73" cy="175.34" r="3.4" fill="#77ac30"/>
<circle cx="559.73" cy="175.34" r="0.8" fill="#b5d48e"/>
<circle cx="565.85" cy="171.90" r="3.4" fill="#77ac30"/>
<circle cx="565.85" cy="171.90" r="0.8" fill="#b5d48e"/>
<circle cx="571.98" cy="152.44" r="3.4" fill="#77ac30"/>
<circle cx="571.98" cy="152.44" r="0.8" fill="#b5d48e"/>
<circle cx="578.10" cy="125.23" r="3.4" fill="#77ac30"/>
<circle cx="578.10" cy="125.23" r="0.8" fill="#b5d48e"/>
<circle cx="584.23" cy="98.71" r="3.4" fill="#77ac30"/>
<circle cx="584.23" cy="98.71" r="0.8" fill="#b5d48e"/>
<circle cx="590.35" cy="82.35" r="3.4" fill="#77ac30"/>
<circle cx="590.35" cy="82.35" r="0.8" fill="#b5d48e"/>
<circle cx="596.48" cy="80.63" r="3.4" fill="#77ac30"/>
<circle cx="596.48" cy="80.63" r="0.8" fill="#b5d48e"/>
<circle cx="602.60" cy="92.69" r="3.4" fill="#77ac30"/>
<circle cx="602.60" cy="92.69" r="0.8" fill="#b5d48e"/>
<circle cx="608.73" cy="113.87" r="3.4" fill="#77ac30"/>
<circle cx="608.73" cy="113.87" r="0.8" fill="#b5d48e"/>
<circle cx="614.85" cy="135.22" r="3.4" fill="#77ac30"/>
<circle cx="614.85" cy="135.22" r="0.8" fill="#b5d48e"/>
<circle cx="620.98" cy="149.51" r="3.4" fill="#77ac30"/>
<circle cx="620.98" cy="149.51" r="0.8" fill="#b5d48e"/>
<circle cx="627.10" cy="152.44" r="3.4" fill="#77ac30"/>
<circle cx="627.10" cy="152.44" r="0.8" fill="#b5d48e"/>
<circle cx="633.23" cy="143.83" r="3.4" fill="#77ac30"/>
<circle cx="633.23" cy="143.83" r="0.8" fill="#b5d48e"/>
<circle cx="639.35" cy="127.30" r="3.4" fill="#77ac30"/>
<circle cx="639.35" cy="127.30" r="0.8" fill="#b5d48e"/>
<circle cx="645.48" cy="109.39" r="3.4" fill="#77ac30"/>
<circle cx="645.48" cy="109.39" r="0.8" fill="#b5d48e"/>
<circle cx="651.60" cy="97.68" r="3.4" fill="#77ac30"/>
<circle cx="651.60" cy="97.68" r="0.8" fill="#b5d48e"/>
<line x1="401.20" y1="121.10" x2="656.80" y2="121.10" stroke="#000" stroke-width="1.3"/>
<rect x="401.20" y="19.50" width="255.60" height="168.90" fill="none" stroke="#262626" stroke-width="1"/>
<line x1="406.60" y1="188.40" x2="406.60" y2="185.80" stroke="#262626" stroke-width="1"/>
<line x1="406.60" y1="19.50" x2="406.60" y2="22.10" stroke="#262626" stroke-width="1"/>
<text x="396.75" y="207.80" font-family='"Liberation Sans", sans-serif' font-size="14" fill="#383838">-20</text>
<line x1="467.85" y1="188.40" x2="467.85" y2="185.80" stroke="#262626" stroke-width="1"/>
<line x1="467.85" y1="19.50" x2="467.85" y2="22.10" stroke="#262626" stroke-width="1"/>
<text x="458.00" y="207.80" font-family='"Liberation Sans", sans-serif' font-size="14" fill="#383838">-10</text>
<line x1="529.10" y1="188.40" x2="529.10" y2="185.80" stroke="#262626" stroke-width="1"/>
<line x1="529.10" y1="19.50" x2="529.10" y2="22.10" stroke="#262626" stroke-width="1"/>
<text x="525.51" y="207.80" font-family='"Liberation Sans", sans-serif' font-size="14" fill="#383838">0</text>
<line x1="590.35" y1="188.40" x2="590.35" y2="185.80" stroke="#262626" stroke-width="1"/>
<line x1="590.35" y1="19.50" x2="590.35" y2="22.10" stroke="#262626" stroke-width="1"/>
<text x="582.60" y="207.80" font-family='"Liberation Sans", sans-serif' font-size="14" fill="#383838">10</text>
<line x1="651.60" y1="188.40" x2="651.60" y2="185.80" stroke="#262626" stroke-width="1"/>
<line x1="651.60" y1="19.50" x2="651.60" y2="22.10" stroke="#262626" stroke-width="1"/>
<text x="644.04" y="207.80" font-family='"Liberation Sans", sans-serif' font-size="14" fill="#383838">20</text>
<line x1="401.20" y1="155.54" x2="403.80" y2="155.54" stroke="#262626" stroke-width="1"/>
<line x1="656.80" y1="155.54" x2="654.20" y2="155.54" stroke="#262626" stroke-width="1"/>
<text x="382.16" y="160.43" font-family='"Liberation Sans", sans-serif' font-size="14" fill="#383838">-2</text>
<line x1="401.20" y1="121.10" x2="403.80" y2="121.10" stroke="#262626" stroke-width="1"/>
<line x1="656.80" y1="121.10" x2="654.20" y2="121.10" stroke="#262626" stroke-width="1"/>
<text x="386.66" y="125.92" font-family='"Liberation Sans", sans-serif' font-size="14" fill="#383838">0</text>
<line x1="401.20" y1="86.66" x2="403.80" y2="86.66" stroke="#262626" stroke-width="1"/>
<line x1="656.80" y1="86.66" x2="654.20" y2="86.66" stroke="#262626" stroke-width="1"/>
<text x="386.82" y="91.55" font-family='"Liberation Sans", sans-serif' font-size="14" fill="#383838">2</text>
<line x1="401.20" y1="52.22" x2="403.80" y2="52.22" stroke="#262626" stroke-width="1"/>
<line x1="656.80" y1="52.22" x2="654.20" y2="52.22" stroke="#262626" stroke-width="1"/>
<text x="386.52" y="57.04" font-family='"Liberation Sans", sans-serif' font-size="14" fill="#383838">4</text>
<line x1="402.40" y1="9.20" x2="408.70" y2="15.30" stroke="#555" stroke-width="0.9"/>
<line x1="402.40" y1="15.30" x2="408.70" y2="9.20" stroke="#555" stroke-width="0.9"/>
<text x="411.13" y="15.90" font-family='"Liberation Sans", sans-serif' font-size="14" fill="#383838">10</text>
<text x="426.56" y="9.50" font-family='"Liberation Sans", sans-serif' font-size="10" fill="#383838" textLength="15.03" lengthAdjust="spacing">-11</text>
<text x="456.97" y="13.70" font-family='"Liberation Serif", serif' font-size="13" fill="#000" font-weight="bold" textLength="143.40" lengthAdjust="spacing">Autocorrelation of Error 1</text>
<text x="0" y="0" transform="translate(376.30 134.62) rotate(-90)" font-family='"Liberation Serif", serif' font-size="13" fill="#383838">Correlation</text>
<text x="519.62" y="219.80" font-family='"Liberation Serif", serif' font-size="12.5" fill="#383838">Lag</text>
<rect x="404.15" y="223.50" width="248.35" height="54.70" fill="#fff" stroke="#262626" stroke-width="1"/>
<line x1="465.30" y1="233.90" x2="508.10" y2="233.90" stroke="#222" stroke-width="1.2"/>
<line x1="465.30" y1="251.20" x2="512.10" y2="251.20" stroke="#ff0000" stroke-width="1.2" stroke-dasharray="1.3 3"/>
<line x1="465.30" y1="268.40" x2="494.90" y2="268.40" stroke="#77ac30" stroke-width="2.8"/>
<circle cx="494.90" cy="268.40" r="3.4" fill="#77ac30"/>
<circle cx="494.90" cy="268.40" r="0.8" fill="#b5d48e"/>
<text x="510.53" y="237.80" font-family='"Liberation Serif", serif' font-size="12" fill="#383838" textLength="75.86" lengthAdjust="spacing">Zero Correlation</text>
<text x="510.61" y="255.90" font-family='"Liberation Serif", serif' font-size="12" fill="#383838" textLength="80.96" lengthAdjust="spacing">Confidence Limit</text>
<text x="510.61" y="272.20" font-family='"Liberation Serif", serif' font-size="12" fill="#383838" textLength="56.93" lengthAdjust="spacing">Correlations</text>
<text x="436.10" y="304.80" font-family='"Liberation Serif", serif' font-size="15" fill="#000">b)</text>
<text x="464.15" y="304.80" font-family='"Liberation Serif", serif' font-size="15" fill="#000" font-weight="bold" textLength="173.92" lengthAdjust="spacing">Autocorrelation of S-2 C-1</text>
<line x1="404.30" y1="447.60" x2="665.40" y2="447.60" stroke="#ff0000" stroke-width="1.2" stroke-dasharray="1.3 3"/>
<line x1="404.30" y1="486.60" x2="665.40" y2="486.60" stroke="#ff0000" stroke-width="1.2" stroke-dasharray="1.3 3"/>
<line x1="407.93" y1="467.10" x2="407.93" y2="452.55" stroke="#77ac30" stroke-width="3.1"/>
<line x1="414.24" y1="467.10" x2="414.24" y2="460.91" stroke="#77ac30" stroke-width="3.1"/>
<line x1="420.55" y1="467.10" x2="420.55" y2="472.05" stroke="#77ac30" stroke-width="3.1"/>
<line x1="426.87" y1="467.10" x2="426.87" y2="484.13" stroke="#77ac30" stroke-width="3.1"/>
<line x1="433.18" y1="467.10" x2="433.18" y2="491.56" stroke="#77ac30" stroke-width="3.1"/>
<line x1="439.49" y1="467.10" x2="439.49" y2="493.11" stroke="#77ac30" stroke-width="3.1"/>
<line x1="445.80" y1="467.10" x2="445.80" y2="485.68" stroke="#77ac30" stroke-width="3.1"/>
<line x1="452.12" y1="467.10" x2="452.12" y2="470.51" stroke="#77ac30" stroke-width="3.1"/>
<line x1="458.43" y1="467.10" x2="458.43" y2="450.69" stroke="#77ac30" stroke-width="3.1"/>
<line x1="464.74" y1="467.10" x2="464.74" y2="433.66" stroke="#77ac30" stroke-width="3.1"/>
<line x1="471.05" y1="467.10" x2="471.05" y2="426.85" stroke="#77ac30" stroke-width="3.1"/>
<line x1="477.37" y1="467.10" x2="477.37" y2="434.90" stroke="#77ac30" stroke-width="3.1"/>
<line x1="483.68" y1="467.10" x2="483.68" y2="457.50" stroke="#77ac30" stroke-width="3.1"/>
<line x1="489.99" y1="467.10" x2="489.99" y2="487.84" stroke="#77ac30" stroke-width="3.1"/>
<line x1="496.30" y1="467.10" x2="496.30" y2="515.40" stroke="#77ac30" stroke-width="3.1"/>
<line x1="502.62" y1="467.10" x2="502.62" y2="526.85" stroke="#77ac30" stroke-width="3.1"/>
<line x1="508.93" y1="467.10" x2="508.93" y2="515.71" stroke="#77ac30" stroke-width="3.1"/>
<line x1="515.24" y1="467.10" x2="515.24" y2="484.75" stroke="#77ac30" stroke-width="3.1"/>
<line x1="521.55" y1="467.10" x2="521.55" y2="440.16" stroke="#77ac30" stroke-width="3.1"/>
<line x1="527.87" y1="467.10" x2="527.87" y2="397.44" stroke="#77ac30" stroke-width="3.1"/>
<line x1="534.18" y1="467.10" x2="534.18" y2="370.50" stroke="#77ac30" stroke-width="3.1"/>
<line x1="540.49" y1="467.10" x2="540.49" y2="397.44" stroke="#77ac30" stroke-width="3.1"/>
<line x1="546.80" y1="467.10" x2="546.80" y2="440.16" stroke="#77ac30" stroke-width="3.1"/>
<line x1="553.12" y1="467.10" x2="553.12" y2="484.75" stroke="#77ac30" stroke-width="3.1"/>
<line x1="559.43" y1="467.10" x2="559.43" y2="515.71" stroke="#77ac30" stroke-width="3.1"/>
<line x1="565.74" y1="467.10" x2="565.74" y2="526.85" stroke="#77ac30" stroke-width="3.1"/>
<line x1="572.05" y1="467.10" x2="572.05" y2="515.40" stroke="#77ac30" stroke-width="3.1"/>
<line x1="578.37" y1="467.10" x2="578.37" y2="487.84" stroke="#77ac30" stroke-width="3.1"/>
<line x1="584.68" y1="467.10" x2="584.68" y2="457.50" stroke="#77ac30" stroke-width="3.1"/>
<line x1="590.99" y1="467.10" x2="590.99" y2="434.90" stroke="#77ac30" stroke-width="3.1"/>
<line x1="597.30" y1="467.10" x2="597.30" y2="426.85" stroke="#77ac30" stroke-width="3.1"/>
<line x1="603.62" y1="467.10" x2="603.62" y2="433.66" stroke="#77ac30" stroke-width="3.1"/>
<line x1="609.93" y1="467.10" x2="609.93" y2="450.69" stroke="#77ac30" stroke-width="3.1"/>
<line x1="616.24" y1="467.10" x2="616.24" y2="470.51" stroke="#77ac30" stroke-width="3.1"/>
<line x1="622.55" y1="467.10" x2="622.55" y2="485.68" stroke="#77ac30" stroke-width="3.1"/>
<line x1="628.87" y1="467.10" x2="628.87" y2="493.11" stroke="#77ac30" stroke-width="3.1"/>
<line x1="635.18" y1="467.10" x2="635.18" y2="491.56" stroke="#77ac30" stroke-width="3.1"/>
<line x1="641.49" y1="467.10" x2="641.49" y2="484.13" stroke="#77ac30" stroke-width="3.1"/>
<line x1="647.80" y1="467.10" x2="647.80" y2="472.05" stroke="#77ac30" stroke-width="3.1"/>
<line x1="654.12" y1="467.10" x2="654.12" y2="460.91" stroke="#77ac30" stroke-width="3.1"/>
<line x1="660.43" y1="467.10" x2="660.43" y2="452.55" stroke="#77ac30" stroke-width="3.1"/>
<circle cx="407.93" cy="452.55" r="3.4" fill="#77ac30"/>
<circle cx="407.93" cy="452.55" r="0.8" fill="#b5d48e"/>
<circle cx="414.24" cy="460.91" r="3.4" fill="#77ac30"/>
<circle cx="414.24" cy="460.91" r="0.8" fill="#b5d48e"/>
<circle cx="420.55" cy="472.05" r="3.4" fill="#77ac30"/>
<circle cx="420.55" cy="472.05" r="0.8" fill="#b5d48e"/>
<circle cx="426.87" cy="484.13" r="3.4" fill="#77ac30"/>
<circle cx="426.87" cy="484.13" r="0.8" fill="#b5d48e"/>
<circle cx="433.18" cy="491.56" r="3.4" fill="#77ac30"/>
<circle cx="433.18" cy="491.56" r="0.8" fill="#b5d48e"/>
<circle cx="439.49" cy="493.11" r="3.4" fill="#77ac30"/>
<circle cx="439.49" cy="493.11" r="0.8" fill="#b5d48e"/>
<circle cx="445.80" cy="485.68" r="3.4" fill="#77ac30"/>
<circle cx="445.80" cy="485.68" r="0.8" fill="#b5d48e"/>
<circle cx="452.12" cy="470.51" r="3.4" fill="#77ac30"/>
<circle cx="452.12" cy="470.51" r="0.8" fill="#b5d48e"/>
<circle cx="458.43" cy="450.69" r="3.4" fill="#77ac30"/>
<circle cx="458.43" cy="450.69" r="0.8" fill="#b5d48e"/>
<circle cx="464.74" cy="433.66" r="3.4" fill="#77ac30"/>
<circle cx="464.74" cy="433.66" r="0.8" fill="#b5d48e"/>
<circle cx="471.05" cy="426.85" r="3.4" fill="#77ac30"/>
<circle cx="471.05" cy="426.85" r="0.8" fill="#b5d48e"/>
<circle cx="477.37" cy="434.90" r="3.4" fill="#77ac30"/>
<circle cx="477.37" cy="434.90" r="0.8" fill="#b5d48e"/>
<circle cx="483.68" cy="457.50" r="3.4" fill="#77ac30"/>
<circle cx="483.68" cy="457.50" r="0.8" fill="#b5d48e"/>
<circle cx="489.99" cy="487.84" r="3.4" fill="#77ac30"/>
<circle cx="489.99" cy="487.84" r="0.8" fill="#b5d48e"/>
<circle cx="496.30" cy="515.40" r="3.4" fill="#77ac30"/>
<circle cx="496.30" cy="515.40" r="0.8" fill="#b5d48e"/>
<circle cx="502.62" cy="526.85" r="3.4" fill="#77ac30"/>
<circle cx="502.62" cy="526.85" r="0.8" fill="#b5d48e"/>
<circle cx="508.93" cy="515.71" r="3.4" fill="#77ac30"/>
<circle cx="508.93" cy="515.71" r="0.8" fill="#b5d48e"/>
<circle cx="515.24" cy="484.75" r="3.4" fill="#77ac30"/>
<circle cx="515.24" cy="484.75" r="0.8" fill="#b5d48e"/>
<circle cx="521.55" cy="440.16" r="3.4" fill="#77ac30"/>
<circle cx="521.55" cy="440.16" r="0.8" fill="#b5d48e"/>
<circle cx="527.87" cy="397.44" r="3.4" fill="#77ac30"/>
<circle cx="527.87" cy="397.44" r="0.8" fill="#b5d48e"/>
<circle cx="534.18" cy="370.50" r="3.4" fill="#77ac30"/>
<circle cx="534.18" cy="370.50" r="0.8" fill="#b5d48e"/>
<circle cx="540.49" cy="397.44" r="3.4" fill="#77ac30"/>
<circle cx="540.49" cy="397.44" r="0.8" fill="#b5d48e"/>
<circle cx="546.80" cy="440.16" r="3.4" fill="#77ac30"/>
<circle cx="546.80" cy="440.16" r="0.8" fill="#b5d48e"/>
<circle cx="553.12" cy="484.75" r="3.4" fill="#77ac30"/>
<circle cx="553.12" cy="484.75" r="0.8" fill="#b5d48e"/>
<circle cx="559.43" cy="515.71" r="3.4" fill="#77ac30"/>
<circle cx="559.43" cy="515.71" r="0.8" fill="#b5d48e"/>
<circle cx="565.74" cy="526.85" r="3.4" fill="#77ac30"/>
<circle cx="565.74" cy="526.85" r="0.8" fill="#b5d48e"/>
<circle cx="572.05" cy="515.40" r="3.4" fill="#77ac30"/>
<circle cx="572.05" cy="515.40" r="0.8" fill="#b5d48e"/>
<circle cx="578.37" cy="487.84" r="3.4" fill="#77ac30"/>
<circle cx="578.37" cy="487.84" r="0.8" fill="#b5d48e"/>
<circle cx="584.68" cy="457.50" r="3.4" fill="#77ac30"/>
<circle cx="584.68" cy="457.50" r="0.8" fill="#b5d48e"/>
<circle cx="590.99" cy="434.90" r="3.4" fill="#77ac30"/>
<circle cx="590.99" cy="434.90" r="0.8" fill="#b5d48e"/>
<circle cx="597.30" cy="426.85" r="3.4" fill="#77ac30"/>
<circle cx="597.30" cy="426.85" r="0.8" fill="#b5d48e"/>
<circle cx="603.62" cy="433.66" r="3.4" fill="#77ac30"/>
<circle cx="603.62" cy="433.66" r="0.8" fill="#b5d48e"/>
<circle cx="609.93" cy="450.69" r="3.4" fill="#77ac30"/>
<circle cx="609.93" cy="450.69" r="0.8" fill="#b5d48e"/>
<circle cx="616.24" cy="470.51" r="3.4" fill="#77ac30"/>
<circle cx="616.24" cy="470.51" r="0.8" fill="#b5d48e"/>
<circle cx="622.55" cy="485.68" r="3.4" fill="#77ac30"/>
<circle cx="622.55" cy="485.68" r="0.8" fill="#b5d48e"/>
<circle cx="628.87" cy="493.11" r="3.4" fill="#77ac30"/>
<circle cx="628.87" cy="493.11" r="0.8" fill="#b5d48e"/>
<circle cx="635.18" cy="491.56" r="3.4" fill="#77ac30"/>
<circle cx="635.18" cy="491.56" r="0.8" fill="#b5d48e"/>
<circle cx="641.49" cy="484.13" r="3.4" fill="#77ac30"/>
<circle cx="641.49" cy="484.13" r="0.8" fill="#b5d48e"/>
<circle cx="647.80" cy="472.05" r="3.4" fill="#77ac30"/>
<circle cx="647.80" cy="472.05" r="0.8" fill="#b5d48e"/>
<circle cx="654.12" cy="460.91" r="3.4" fill="#77ac30"/>
<circle cx="654.12" cy="460.91" r="0.8" fill="#b5d48e"/>
<circle cx="660.43" cy="452.55" r="3.4" fill="#77ac30"/>
<circle cx="660.43" cy="452.55" r="0.8" fill="#b5d48e"/>
<line x1="402.30" y1="467.10" x2="665.40" y2="467.10" stroke="#000" stroke-width="1.3"/>
<rect x="402.30" y="355.80" width="263.10" height="185.40" fill="none" stroke="#262626" stroke-width="1"/>
<line x1="407.93" y1="541.20" x2="407.93" y2="538.60" stroke="#262626" stroke-width="1"/>
<line x1="407.93" y1="355.80" x2="407.93" y2="358.40" stroke="#262626" stroke-width="1"/>
<text x="398.08" y="562.00" font-family='"Liberation Sans", sans-serif' font-size="14" fill="#383838">-20</text>
<line x1="471.05" y1="541.20" x2="471.05" y2="538.60" stroke="#262626" stroke-width="1"/>
<line x1="471.05" y1="355.80" x2="471.05" y2="358.40" stroke="#262626" stroke-width="1"/>
<text x="461.20" y="562.00" font-family='"Liberation Sans", sans-serif' font-size="14" fill="#383838">-10</text>
<line x1="534.18" y1="541.20" x2="534.18" y2="538.60" stroke="#262626" stroke-width="1"/>
<line x1="534.18" y1="355.80" x2="534.18" y2="358.40" stroke="#262626" stroke-width="1"/>
<text x="530.59" y="562.00" font-family='"Liberation Sans", sans-serif' font-size="14" fill="#383838">0</text>
<line x1="597.30" y1="541.20" x2="597.30" y2="538.60" stroke="#262626" stroke-width="1"/>
<line x1="597.30" y1="355.80" x2="597.30" y2="358.40" stroke="#262626" stroke-width="1"/>
<text x="589.56" y="562.00" font-family='"Liberation Sans", sans-serif' font-size="14" fill="#383838">10</text>
<line x1="660.43" y1="541.20" x2="660.43" y2="538.60" stroke="#262626" stroke-width="1"/>
<line x1="660.43" y1="355.80" x2="660.43" y2="358.40" stroke="#262626" stroke-width="1"/>
<text x="652.87" y="562.00" font-family='"Liberation Sans", sans-serif' font-size="14" fill="#383838">20</text>
<line x1="402.30" y1="529.02" x2="404.90" y2="529.02" stroke="#262626" stroke-width="1"/>
<line x1="665.40" y1="529.02" x2="662.80" y2="529.02" stroke="#262626" stroke-width="1"/>
<text x="383.26" y="533.91" font-family='"Liberation Sans", sans-serif' font-size="14" fill="#383838">-2</text>
<line x1="402.30" y1="498.06" x2="404.90" y2="498.06" stroke="#262626" stroke-width="1"/>
<line x1="665.40" y1="498.06" x2="662.80" y2="498.06" stroke="#262626" stroke-width="1"/>
<text x="383.24" y="502.88" font-family='"Liberation Sans", sans-serif' font-size="14" fill="#383838">-1</text>
<line x1="402.30" y1="467.10" x2="404.90" y2="467.10" stroke="#262626" stroke-width="1"/>
<line x1="665.40" y1="467.10" x2="662.80" y2="467.10" stroke="#262626" stroke-width="1"/>
<text x="387.76" y="471.92" font-family='"Liberation Sans", sans-serif' font-size="14" fill="#383838">0</text>
<line x1="402.30" y1="436.14" x2="404.90" y2="436.14" stroke="#262626" stroke-width="1"/>
<line x1="665.40" y1="436.14" x2="662.80" y2="436.14" stroke="#262626" stroke-width="1"/>
<text x="387.90" y="440.96" font-family='"Liberation Sans", sans-serif' font-size="14" fill="#383838">1</text>
<line x1="402.30" y1="405.18" x2="404.90" y2="405.18" stroke="#262626" stroke-width="1"/>
<line x1="665.40" y1="405.18" x2="662.80" y2="405.18" stroke="#262626" stroke-width="1"/>
<text x="387.92" y="410.07" font-family='"Liberation Sans", sans-serif' font-size="14" fill="#383838">2</text>
<line x1="402.30" y1="374.22" x2="404.90" y2="374.22" stroke="#262626" stroke-width="1"/>
<line x1="665.40" y1="374.22" x2="662.80" y2="374.22" stroke="#262626" stroke-width="1"/>
<text x="387.83" y="379.04" font-family='"Liberation Sans", sans-serif' font-size="14" fill="#383838">3</text>
<line x1="403.90" y1="345.30" x2="410.00" y2="351.20" stroke="#555" stroke-width="0.9"/>
<line x1="403.90" y1="351.20" x2="410.00" y2="345.30" stroke="#555" stroke-width="0.9"/>
<text x="412.63" y="351.90" font-family='"Liberation Sans", sans-serif' font-size="14" fill="#383838">10</text>
<text x="428.56" y="345.20" font-family='"Liberation Sans", sans-serif' font-size="10" fill="#383838">-9</text>
<text x="459.77" y="349.60" font-family='"Liberation Serif", serif' font-size="13" fill="#000" font-weight="bold" textLength="148.20" lengthAdjust="spacing">Autocorrelation of Error 1</text>
<text x="0" y="0" transform="translate(377.40 479.15) rotate(-90)" font-family='"Liberation Serif", serif' font-size="13.1" fill="#383838">Correlation</text>
<text x="524.70" y="576.00" font-family='"Liberation Serif", serif' font-size="12.5" fill="#383838">Lag</text>
<rect x="405.40" y="581.90" width="254.80" height="55.50" fill="#fff" stroke="#262626" stroke-width="1"/>
<line x1="467.70" y1="592.80" x2="511.30" y2="592.80" stroke="#222" stroke-width="1.2"/>
<line x1="467.70" y1="610.10" x2="515.30" y2="610.10" stroke="#ff0000" stroke-width="1.2" stroke-dasharray="1.3 3"/>
<line x1="467.70" y1="626.80" x2="498.40" y2="626.80" stroke="#77ac30" stroke-width="2.8"/>
<circle cx="498.40" cy="626.80" r="3.4" fill="#77ac30"/>
<circle cx="498.40" cy="626.80" r="0.8" fill="#b5d48e"/>
<text x="514.73" y="596.80" font-family='"Liberation Serif", serif' font-size="12" fill="#383838" textLength="78.56" lengthAdjust="spacing">Zero Correlation</text>
<text x="514.81" y="614.10" font-family='"Liberation Serif", serif' font-size="12" fill="#383838" textLength="83.26" lengthAdjust="spacing">Confidence Limit</text>
<text x="514.81" y="630.80" font-family='"Liberation Serif", serif' font-size="12" fill="#383838" textLength="59.03" lengthAdjust="spacing">Correlations</text>
<text x="435.26" y="657.70" font-family='"Liberation Serif", serif' font-size="15" fill="#000">d)</text>
<text x="464.15" y="657.70" font-family='"Liberation Serif", serif' font-size="15" fill="#000" font-weight="bold" textLength="173.79" lengthAdjust="spacing">Autocorrelation of S-2 C-2</text>
<line x1="407.00" y1="797.51" x2="682.00" y2="797.51" stroke="#ff0000" stroke-width="1.2" stroke-dasharray="1.3 3"/>
<line x1="407.00" y1="835.49" x2="682.00" y2="835.49" stroke="#ff0000" stroke-width="1.2" stroke-dasharray="1.3 3"/>
<line x1="410.19" y1="816.50" x2="410.19" y2="802.44" stroke="#77ac30" stroke-width="3.1"/>
<line x1="416.84" y1="816.50" x2="416.84" y2="810.52" stroke="#77ac30" stroke-width="3.1"/>
<line x1="423.49" y1="816.50" x2="423.49" y2="821.29" stroke="#77ac30" stroke-width="3.1"/>
<line x1="430.13" y1="816.50" x2="430.13" y2="832.95" stroke="#77ac30" stroke-width="3.1"/>
<line x1="436.78" y1="816.50" x2="436.78" y2="840.13" stroke="#77ac30" stroke-width="3.1"/>
<line x1="443.43" y1="816.50" x2="443.43" y2="841.62" stroke="#77ac30" stroke-width="3.1"/>
<line x1="450.07" y1="816.50" x2="450.07" y2="834.45" stroke="#77ac30" stroke-width="3.1"/>
<line x1="456.72" y1="816.50" x2="456.72" y2="819.79" stroke="#77ac30" stroke-width="3.1"/>
<line x1="463.37" y1="816.50" x2="463.37" y2="800.65" stroke="#77ac30" stroke-width="3.1"/>
<line x1="470.02" y1="816.50" x2="470.02" y2="784.20" stroke="#77ac30" stroke-width="3.1"/>
<line x1="476.66" y1="816.50" x2="476.66" y2="777.62" stroke="#77ac30" stroke-width="3.1"/>
<line x1="483.31" y1="816.50" x2="483.31" y2="785.39" stroke="#77ac30" stroke-width="3.1"/>
<line x1="489.96" y1="816.50" x2="489.96" y2="807.23" stroke="#77ac30" stroke-width="3.1"/>
<line x1="496.61" y1="816.50" x2="496.61" y2="836.54" stroke="#77ac30" stroke-width="3.1"/>
<line x1="503.25" y1="816.50" x2="503.25" y2="863.16" stroke="#77ac30" stroke-width="3.1"/>
<line x1="509.90" y1="816.50" x2="509.90" y2="874.23" stroke="#77ac30" stroke-width="3.1"/>
<line x1="516.55" y1="816.50" x2="516.55" y2="863.46" stroke="#77ac30" stroke-width="3.1"/>
<line x1="523.20" y1="816.50" x2="523.20" y2="833.55" stroke="#77ac30" stroke-width="3.1"/>
<line x1="529.85" y1="816.50" x2="529.85" y2="790.48" stroke="#77ac30" stroke-width="3.1"/>
<line x1="536.49" y1="816.50" x2="536.49" y2="749.20" stroke="#77ac30" stroke-width="3.1"/>
<line x1="543.14" y1="816.50" x2="543.14" y2="723.18" stroke="#77ac30" stroke-width="3.1"/>
<line x1="549.79" y1="816.50" x2="549.79" y2="749.20" stroke="#77ac30" stroke-width="3.1"/>
<line x1="556.43" y1="816.50" x2="556.43" y2="790.48" stroke="#77ac30" stroke-width="3.1"/>
<line x1="563.08" y1="816.50" x2="563.08" y2="833.55" stroke="#77ac30" stroke-width="3.1"/>
<line x1="569.73" y1="816.50" x2="569.73" y2="863.46" stroke="#77ac30" stroke-width="3.1"/>
<line x1="576.38" y1="816.50" x2="576.38" y2="874.23" stroke="#77ac30" stroke-width="3.1"/>
<line x1="583.02" y1="816.50" x2="583.02" y2="863.16" stroke="#77ac30" stroke-width="3.1"/>
<line x1="589.67" y1="816.50" x2="589.67" y2="836.54" stroke="#77ac30" stroke-width="3.1"/>
<line x1="596.32" y1="816.50" x2="596.32" y2="807.23" stroke="#77ac30" stroke-width="3.1"/>
<line x1="602.97" y1="816.50" x2="602.97" y2="785.39" stroke="#77ac30" stroke-width="3.1"/>
<line x1="609.62" y1="816.50" x2="609.62" y2="777.62" stroke="#77ac30" stroke-width="3.1"/>
<line x1="616.26" y1="816.50" x2="616.26" y2="784.20" stroke="#77ac30" stroke-width="3.1"/>
<line x1="622.91" y1="816.50" x2="622.91" y2="800.65" stroke="#77ac30" stroke-width="3.1"/>
<line x1="629.56" y1="816.50" x2="629.56" y2="819.79" stroke="#77ac30" stroke-width="3.1"/>
<line x1="636.20" y1="816.50" x2="636.20" y2="834.45" stroke="#77ac30" stroke-width="3.1"/>
<line x1="642.85" y1="816.50" x2="642.85" y2="841.62" stroke="#77ac30" stroke-width="3.1"/>
<line x1="649.50" y1="816.50" x2="649.50" y2="840.13" stroke="#77ac30" stroke-width="3.1"/>
<line x1="656.15" y1="816.50" x2="656.15" y2="832.95" stroke="#77ac30" stroke-width="3.1"/>
<line x1="662.79" y1="816.50" x2="662.79" y2="821.29" stroke="#77ac30" stroke-width="3.1"/>
<line x1="669.44" y1="816.50" x2="669.44" y2="810.52" stroke="#77ac30" stroke-width="3.1"/>
<line x1="676.09" y1="816.50" x2="676.09" y2="802.44" stroke="#77ac30" stroke-width="3.1"/>
<circle cx="410.19" cy="802.44" r="3.4" fill="#77ac30"/>
<circle cx="410.19" cy="802.44" r="0.8" fill="#b5d48e"/>
<circle cx="416.84" cy="810.52" r="3.4" fill="#77ac30"/>
<circle cx="416.84" cy="810.52" r="0.8" fill="#b5d48e"/>
<circle cx="423.49" cy="821.29" r="3.4" fill="#77ac30"/>
<circle cx="423.49" cy="821.29" r="0.8" fill="#b5d48e"/>
<circle cx="430.13" cy="832.95" r="3.4" fill="#77ac30"/>
<circle cx="430.13" cy="832.95" r="0.8" fill="#b5d48e"/>
<circle cx="436.78" cy="840.13" r="3.4" fill="#77ac30"/>
<circle cx="436.78" cy="840.13" r="0.8" fill="#b5d48e"/>
<circle cx="443.43" cy="841.62" r="3.4" fill="#77ac30"/>
<circle cx="443.43" cy="841.62" r="0.8" fill="#b5d48e"/>
<circle cx="450.07" cy="834.45" r="3.4" fill="#77ac30"/>
<circle cx="450.07" cy="834.45" r="0.8" fill="#b5d48e"/>
<circle cx="456.72" cy="819.79" r="3.4" fill="#77ac30"/>
<circle cx="456.72" cy="819.79" r="0.8" fill="#b5d48e"/>
<circle cx="463.37" cy="800.65" r="3.4" fill="#77ac30"/>
<circle cx="463.37" cy="800.65" r="0.8" fill="#b5d48e"/>
<circle cx="470.02" cy="784.20" r="3.4" fill="#77ac30"/>
<circle cx="470.02" cy="784.20" r="0.8" fill="#b5d48e"/>
<circle cx="476.66" cy="777.62" r="3.4" fill="#77ac30"/>
<circle cx="476.66" cy="777.62" r="0.8" fill="#b5d48e"/>
<circle cx="483.31" cy="785.39" r="3.4" fill="#77ac30"/>
<circle cx="483.31" cy="785.39" r="0.8" fill="#b5d48e"/>
<circle cx="489.96" cy="807.23" r="3.4" fill="#77ac30"/>
<circle cx="489.96" cy="807.23" r="0.8" fill="#b5d48e"/>
<circle cx="496.61" cy="836.54" r="3.4" fill="#77ac30"/>
<circle cx="496.61" cy="836.54" r="0.8" fill="#b5d48e"/>
<circle cx="503.25" cy="863.16" r="3.4" fill="#77ac30"/>
<circle cx="503.25" cy="863.16" r="0.8" fill="#b5d48e"/>
<circle cx="509.90" cy="874.23" r="3.4" fill="#77ac30"/>
<circle cx="509.90" cy="874.23" r="0.8" fill="#b5d48e"/>
<circle cx="516.55" cy="863.46" r="3.4" fill="#77ac30"/>
<circle cx="516.55" cy="863.46" r="0.8" fill="#b5d48e"/>
<circle cx="523.20" cy="833.55" r="3.4" fill="#77ac30"/>
<circle cx="523.20" cy="833.55" r="0.8" fill="#b5d48e"/>
<circle cx="529.85" cy="790.48" r="3.4" fill="#77ac30"/>
<circle cx="529.85" cy="790.48" r="0.8" fill="#b5d48e"/>
<circle cx="536.49" cy="749.20" r="3.4" fill="#77ac30"/>
<circle cx="536.49" cy="749.20" r="0.8" fill="#b5d48e"/>
<circle cx="543.14" cy="723.18" r="3.4" fill="#77ac30"/>
<circle cx="543.14" cy="723.18" r="0.8" fill="#b5d48e"/>
<circle cx="549.79" cy="749.20" r="3.4" fill="#77ac30"/>
<circle cx="549.79" cy="749.20" r="0.8" fill="#b5d48e"/>
<circle cx="556.43" cy="790.48" r="3.4" fill="#77ac30"/>
<circle cx="556.43" cy="790.48" r="0.8" fill="#b5d48e"/>
<circle cx="563.08" cy="833.55" r="3.4" fill="#77ac30"/>
<circle cx="563.08" cy="833.55" r="0.8" fill="#b5d48e"/>
<circle cx="569.73" cy="863.46" r="3.4" fill="#77ac30"/>
<circle cx="569.73" cy="863.46" r="0.8" fill="#b5d48e"/>
<circle cx="576.38" cy="874.23" r="3.4" fill="#77ac30"/>
<circle cx="576.38" cy="874.23" r="0.8" fill="#b5d48e"/>
<circle cx="583.02" cy="863.16" r="3.4" fill="#77ac30"/>
<circle cx="583.02" cy="863.16" r="0.8" fill="#b5d48e"/>
<circle cx="589.67" cy="836.54" r="3.4" fill="#77ac30"/>
<circle cx="589.67" cy="836.54" r="0.8" fill="#b5d48e"/>
<circle cx="596.32" cy="807.23" r="3.4" fill="#77ac30"/>
<circle cx="596.32" cy="807.23" r="0.8" fill="#b5d48e"/>
<circle cx="602.97" cy="785.39" r="3.4" fill="#77ac30"/>
<circle cx="602.97" cy="785.39" r="0.8" fill="#b5d48e"/>
<circle cx="609.62" cy="777.62" r="3.4" fill="#77ac30"/>
<circle cx="609.62" cy="777.62" r="0.8" fill="#b5d48e"/>
<circle cx="616.26" cy="784.20" r="3.4" fill="#77ac30"/>
<circle cx="616.26" cy="784.20" r="0.8" fill="#b5d48e"/>
<circle cx="622.91" cy="800.65" r="3.4" fill="#77ac30"/>
<circle cx="622.91" cy="800.65" r="0.8" fill="#b5d48e"/>
<circle cx="629.56" cy="819.79" r="3.4" fill="#77ac30"/>
<circle cx="629.56" cy="819.79" r="0.8" fill="#b5d48e"/>
<circle cx="636.20" cy="834.45" r="3.4" fill="#77ac30"/>
<circle cx="636.20" cy="834.45" r="0.8" fill="#b5d48e"/>
<circle cx="642.85" cy="841.62" r="3.4" fill="#77ac30"/>
<circle cx="642.85" cy="841.62" r="0.8" fill="#b5d48e"/>
<circle cx="649.50" cy="840.13" r="3.4" fill="#77ac30"/>
<circle cx="649.50" cy="840.13" r="0.8" fill="#b5d48e"/>
<circle cx="656.15" cy="832.95" r="3.4" fill="#77ac30"/>
<circle cx="656.15" cy="832.95" r="0.8" fill="#b5d48e"/>
<circle cx="662.79" cy="821.29" r="3.4" fill="#77ac30"/>
<circle cx="662.79" cy="821.29" r="0.8" fill="#b5d48e"/>
<circle cx="669.44" cy="810.52" r="3.4" fill="#77ac30"/>
<circle cx="669.44" cy="810.52" r="0.8" fill="#b5d48e"/>
<circle cx="676.09" cy="802.44" r="3.4" fill="#77ac30"/>
<circle cx="676.09" cy="802.44" r="0.8" fill="#b5d48e"/>
<line x1="405.00" y1="816.50" x2="682.00" y2="816.50" stroke="#000" stroke-width="1.3"/>
<rect x="405.00" y="708.60" width="277.00" height="179.40" fill="none" stroke="#262626" stroke-width="1"/>
<line x1="410.19" y1="888.00" x2="410.19" y2="885.40" stroke="#262626" stroke-width="1"/>
<line x1="410.19" y1="708.60" x2="410.19" y2="711.20" stroke="#262626" stroke-width="1"/>
<text x="400.34" y="910.50" font-family='"Liberation Sans", sans-serif' font-size="14" fill="#383838">-20</text>
<line x1="476.66" y1="888.00" x2="476.66" y2="885.40" stroke="#262626" stroke-width="1"/>
<line x1="476.66" y1="708.60" x2="476.66" y2="711.20" stroke="#262626" stroke-width="1"/>
<text x="466.81" y="910.50" font-family='"Liberation Sans", sans-serif' font-size="14" fill="#383838">-10</text>
<line x1="543.14" y1="888.00" x2="543.14" y2="885.40" stroke="#262626" stroke-width="1"/>
<line x1="543.14" y1="708.60" x2="543.14" y2="711.20" stroke="#262626" stroke-width="1"/>
<text x="539.55" y="910.50" font-family='"Liberation Sans", sans-serif' font-size="14" fill="#383838">0</text>
<line x1="609.62" y1="888.00" x2="609.62" y2="885.40" stroke="#262626" stroke-width="1"/>
<line x1="609.62" y1="708.60" x2="609.62" y2="711.20" stroke="#262626" stroke-width="1"/>
<text x="601.87" y="910.50" font-family='"Liberation Sans", sans-serif' font-size="14" fill="#383838">10</text>
<line x1="676.09" y1="888.00" x2="676.09" y2="885.40" stroke="#262626" stroke-width="1"/>
<line x1="676.09" y1="708.60" x2="676.09" y2="711.20" stroke="#262626" stroke-width="1"/>
<text x="668.53" y="910.50" font-family='"Liberation Sans", sans-serif' font-size="14" fill="#383838">20</text>
<line x1="405.00" y1="876.32" x2="407.60" y2="876.32" stroke="#262626" stroke-width="1"/>
<line x1="682.00" y1="876.32" x2="679.40" y2="876.32" stroke="#262626" stroke-width="1"/>
<text x="386.26" y="881.21" font-family='"Liberation Sans", sans-serif' font-size="14" fill="#383838">-2</text>
<line x1="405.00" y1="846.41" x2="407.60" y2="846.41" stroke="#262626" stroke-width="1"/>
<line x1="682.00" y1="846.41" x2="679.40" y2="846.41" stroke="#262626" stroke-width="1"/>
<text x="386.24" y="851.23" font-family='"Liberation Sans", sans-serif' font-size="14" fill="#383838">-1</text>
<line x1="405.00" y1="816.50" x2="407.60" y2="816.50" stroke="#262626" stroke-width="1"/>
<line x1="682.00" y1="816.50" x2="679.40" y2="816.50" stroke="#262626" stroke-width="1"/>
<text x="390.76" y="821.32" font-family='"Liberation Sans", sans-serif' font-size="14" fill="#383838">0</text>
<line x1="405.00" y1="786.59" x2="407.60" y2="786.59" stroke="#262626" stroke-width="1"/>
<line x1="682.00" y1="786.59" x2="679.40" y2="786.59" stroke="#262626" stroke-width="1"/>
<text x="390.90" y="791.41" font-family='"Liberation Sans", sans-serif' font-size="14" fill="#383838">1</text>
<line x1="405.00" y1="756.68" x2="407.60" y2="756.68" stroke="#262626" stroke-width="1"/>
<line x1="682.00" y1="756.68" x2="679.40" y2="756.68" stroke="#262626" stroke-width="1"/>
<text x="390.92" y="761.57" font-family='"Liberation Sans", sans-serif' font-size="14" fill="#383838">2</text>
<line x1="405.00" y1="726.77" x2="407.60" y2="726.77" stroke="#262626" stroke-width="1"/>
<line x1="682.00" y1="726.77" x2="679.40" y2="726.77" stroke="#262626" stroke-width="1"/>
<text x="390.83" y="731.59" font-family='"Liberation Sans", sans-serif' font-size="14" fill="#383838">3</text>
<line x1="406.60" y1="697.50" x2="412.70" y2="704.00" stroke="#555" stroke-width="0.9"/>
<line x1="406.60" y1="704.00" x2="412.70" y2="697.50" stroke="#555" stroke-width="0.9"/>
<text x="416.13" y="704.40" font-family='"Liberation Sans", sans-serif' font-size="14" fill="#383838">10</text>
<text x="432.76" y="697.50" font-family='"Liberation Sans", sans-serif' font-size="10" fill="#383838">-9</text>
<text x="466.17" y="701.90" font-family='"Liberation Serif", serif' font-size="13.6" fill="#000" font-weight="bold" textLength="154.94" lengthAdjust="spacing">Autocorrelation of Error 1</text>
<text x="0" y="0" transform="translate(377.90 831.17) rotate(-90)" font-family='"Liberation Serif", serif' font-size="13.7" fill="#383838">Correlation</text>
<text x="533.66" y="923.00" font-family='"Liberation Serif", serif' font-size="12.5" fill="#383838">Lag</text>
<rect x="407.90" y="926.90" width="268.30" height="58.30" fill="#fff" stroke="#262626" stroke-width="1"/>
<line x1="473.60" y1="937.50" x2="519.00" y2="937.50" stroke="#222" stroke-width="1.2"/>
<line x1="473.60" y1="956.80" x2="523.00" y2="956.80" stroke="#ff0000" stroke-width="1.2" stroke-dasharray="1.3 3"/>
<line x1="473.60" y1="974.60" x2="505.90" y2="974.60" stroke="#77ac30" stroke-width="2.8"/>
<circle cx="505.90" cy="974.60" r="3.4" fill="#77ac30"/>
<circle cx="505.90" cy="974.60" r="0.8" fill="#b5d48e"/>
<text x="523.40" y="941.70" font-family='"Liberation Serif", serif' font-size="12.5" fill="#383838" textLength="82.39" lengthAdjust="spacing">Zero Correlation</text>
<text x="523.49" y="961.00" font-family='"Liberation Serif", serif' font-size="12.5" fill="#383838" textLength="87.39" lengthAdjust="spacing">Confidence Limit</text>
<text x="523.49" y="978.80" font-family='"Liberation Serif", serif' font-size="12.5" fill="#383838" textLength="62.06" lengthAdjust="spacing">Correlations</text>
<text x="436.14" y="1003.70" font-family='"Liberation Serif", serif' font-size="15" fill="#000">f)</text>
<text x="464.15" y="1003.70" font-family='"Liberation Serif", serif' font-size="15" fill="#000" font-weight="bold" textLength="173.66" lengthAdjust="spacing">Autocorrelation of S-2 C-3</text>
</svg>
</body></html>
